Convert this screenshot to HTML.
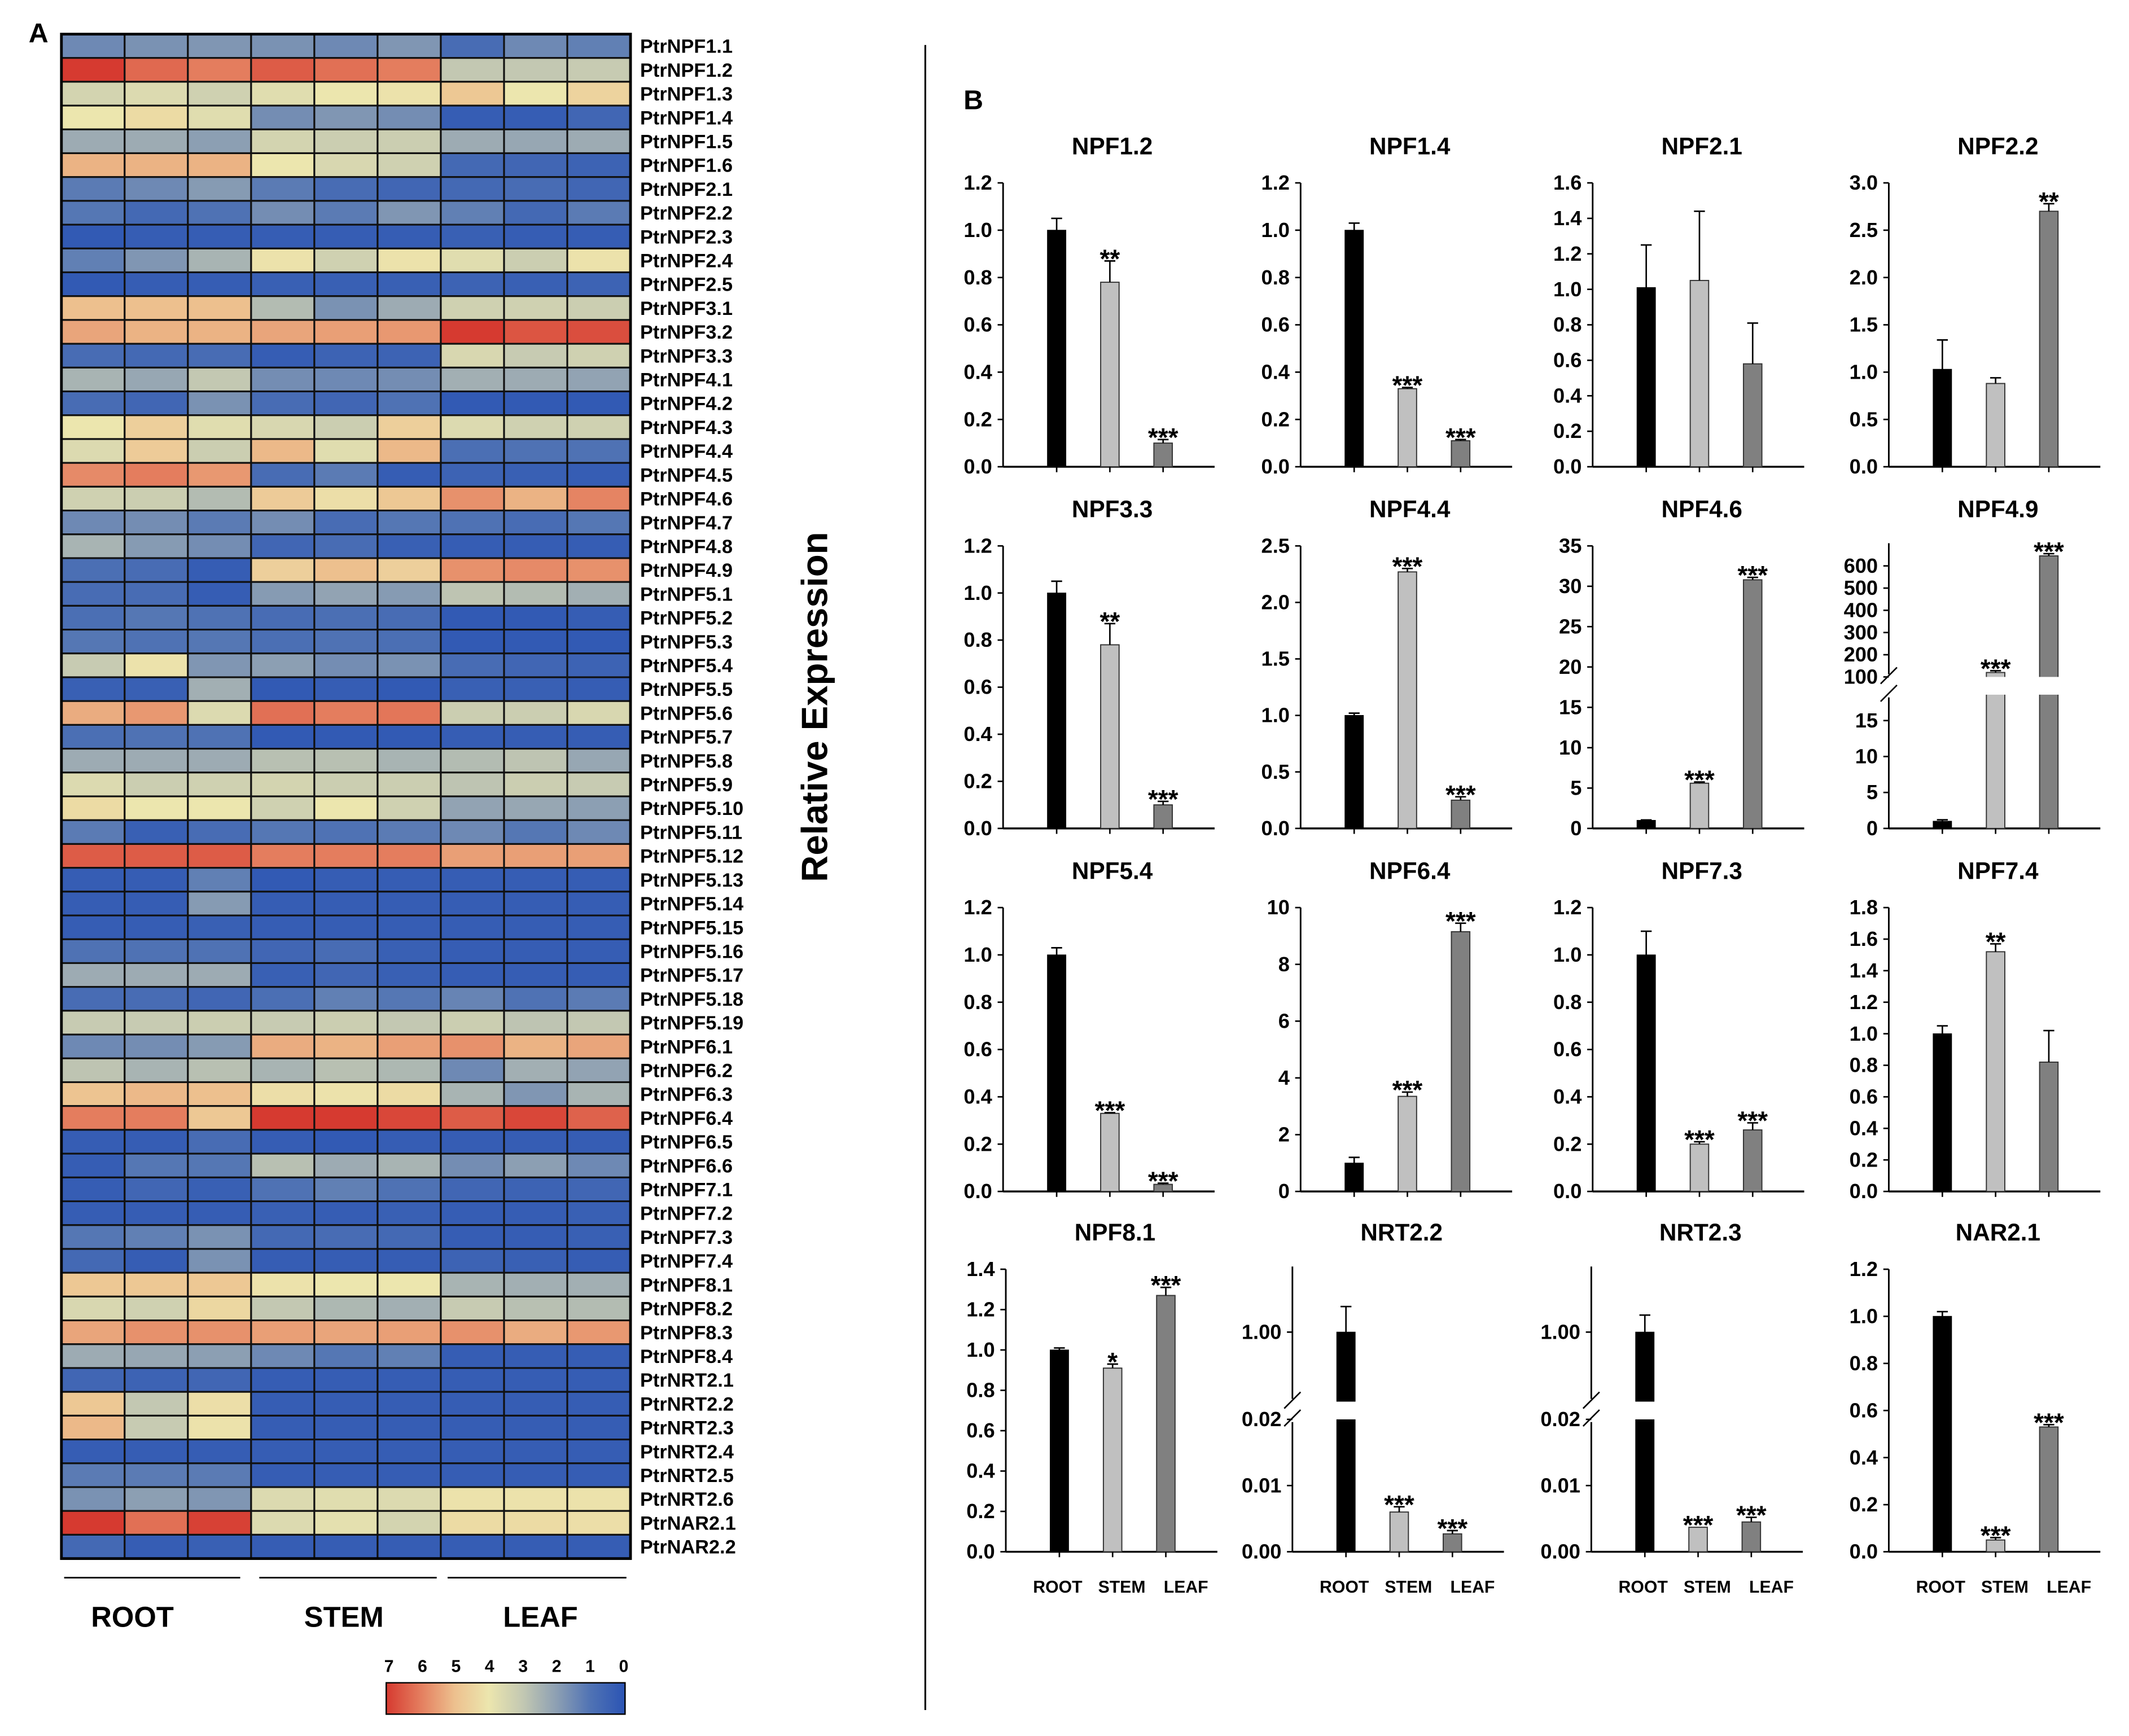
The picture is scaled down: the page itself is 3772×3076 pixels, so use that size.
<!DOCTYPE html>
<html><head><meta charset="utf-8"><title>NPF expression figure</title>
<style>
html,body{margin:0;padding:0;background:#fff;}
svg{display:block;}
text{font-family:"Liberation Sans",Arial,sans-serif;}
</style></head>
<body>
<svg id="fig" xmlns="http://www.w3.org/2000/svg" width="3772" height="3076" viewBox="0 0 1560 1272" preserveAspectRatio="none">
<rect x="0" y="0" width="1560" height="1272" fill="#fff"/>
<text x="21" y="31" font-size="20" font-weight="bold">A</text>
<text x="706" y="80" font-size="20" font-weight="bold">B</text>
<line x1="678" y1="33" x2="678" y2="1253" stroke="#000" stroke-width="1.3"/>
<text x="0" y="0" transform="translate(606,518) rotate(-90)" text-anchor="middle" font-size="27" font-weight="bold">Relative Expression</text>
<g id="heat"></g>
<g>
<line x1="47" y1="1156" x2="176" y2="1156" stroke="#000" stroke-width="1.2"/>
<line x1="190" y1="1156" x2="320" y2="1156" stroke="#000" stroke-width="1.2"/>
<line x1="328" y1="1156" x2="459" y2="1156" stroke="#000" stroke-width="1.2"/>
<text x="97" y="1192" text-anchor="middle" font-size="21" font-weight="bold">ROOT</text>
<text x="252" y="1192" text-anchor="middle" font-size="21" font-weight="bold">STEM</text>
<text x="396" y="1192" text-anchor="middle" font-size="21" font-weight="bold">LEAF</text>
</g>
<defs>
<linearGradient id="cbg" x1="0" y1="0" x2="1" y2="0">
<stop offset="0" stop-color="#d63a30"/><stop offset="0.143" stop-color="#e47d5e"/><stop offset="0.286" stop-color="#edc08e"/><stop offset="0.429" stop-color="#ece6ae"/><stop offset="0.571" stop-color="#c3c8b2"/><stop offset="0.714" stop-color="#8c9fb3"/><stop offset="0.857" stop-color="#4f72b4"/><stop offset="1" stop-color="#2b54b4"/>
</linearGradient>
</defs>
<g id="cbar">
<rect x="283" y="1233" width="175" height="23" fill="url(#cbg)" stroke="#000" stroke-width="1"/>
</g>
<g id="charts"></g>
</svg>
<script>
// ---------- heatmap data ----------
const genes = ["PtrNPF1.1","PtrNPF1.2","PtrNPF1.3","PtrNPF1.4","PtrNPF1.5","PtrNPF1.6","PtrNPF2.1","PtrNPF2.2","PtrNPF2.3","PtrNPF2.4","PtrNPF2.5","PtrNPF3.1","PtrNPF3.2","PtrNPF3.3","PtrNPF4.1","PtrNPF4.2","PtrNPF4.3","PtrNPF4.4","PtrNPF4.5","PtrNPF4.6","PtrNPF4.7","PtrNPF4.8","PtrNPF4.9","PtrNPF5.1","PtrNPF5.2","PtrNPF5.3","PtrNPF5.4","PtrNPF5.5","PtrNPF5.6","PtrNPF5.7","PtrNPF5.8","PtrNPF5.9","PtrNPF5.10","PtrNPF5.11","PtrNPF5.12","PtrNPF5.13","PtrNPF5.14","PtrNPF5.15","PtrNPF5.16","PtrNPF5.17","PtrNPF5.18","PtrNPF5.19","PtrNPF6.1","PtrNPF6.2","PtrNPF6.3","PtrNPF6.4","PtrNPF6.5","PtrNPF6.6","PtrNPF7.1","PtrNPF7.2","PtrNPF7.3","PtrNPF7.4","PtrNPF8.1","PtrNPF8.2","PtrNPF8.3","PtrNPF8.4","PtrNRT2.1","PtrNRT2.2","PtrNRT2.3","PtrNRT2.4","PtrNRT2.5","PtrNRT2.6","PtrNAR2.1","PtrNAR2.2"];
const heatValues = [
[1.5,1.7,1.8,1.7,1.5,1.8,0.8,1.5,1.3],
[7,6.3,6,6.5,6.2,6,3,3,3.1],
[3.4,3.6,3.3,3.7,4,4.1,4.8,4,4.5],
[4,4.3,3.7,1.6,1.8,1.6,0.3,0.3,0.6],
[2.3,2.3,2,3.4,3.2,3.2,2.3,2.2,2.3],
[5.2,5.2,5.2,4,3.5,3.3,0.7,0.6,0.5],
[1.2,1.5,1.9,1.2,0.8,0.6,0.7,0.8,0.6],
[1.1,0.7,1,1.6,1.2,1.8,1.3,0.7,1.2],
[0.2,0.3,0.3,0.3,0.3,0.3,0.4,0.3,0.3],
[1.3,1.8,2.5,4.1,3.3,4.1,3.7,3.2,4.1],
[0.2,0.3,0.3,0.4,0.4,0.4,0.5,0.4,0.5],
[5,5,5,2.7,1.7,2.3,3.3,3.3,3.2],
[5.4,5.2,5.2,5.4,5.5,5.6,7,6.6,6.7],
[0.8,0.7,0.8,0.3,0.5,0.5,3.5,3.1,3.3],
[2.5,2.2,3,1.6,1.5,1.6,2.4,2.3,2.1],
[0.8,0.6,1.7,0.8,0.6,1.0,0.2,0.2,0.2],
[4,4.6,3.7,3.5,3.2,4.6,3.6,3.3,3.3],
[3.6,4.7,3.2,5.1,3.7,5.1,0.9,1,1],
[5.8,6,5.6,0.8,1.2,0.3,0.5,0.4,0.3],
[3.3,3.2,2.7,4.7,4.2,4.8,5.7,5.2,5.9],
[1.5,1.6,1.2,1.6,0.8,1.1,1,0.8,1.1],
[2.5,1.9,1.6,0.6,0.8,0.4,0.3,0.3,0.3],
[0.9,0.8,0.3,4.6,5,4.6,5.7,5.8,5.7],
[0.8,0.8,0.3,1.9,2.1,1.9,2.9,2.7,2.4],
[0.9,1.1,1,0.8,0.9,0.8,0.2,0.2,0.3],
[1.1,1,1.1,0.9,1,0.9,0.2,0.2,0.2],
[3.1,4.1,1.8,2,1.6,1.7,0.8,0.6,0.5],
[0.4,0.4,2.4,0.2,0.3,0.2,0.4,0.4,0.3],
[5.3,5.6,3.6,6.2,6,6.1,3.2,3.2,3.5],
[0.9,1,1,0.2,0.2,0.2,0.3,0.3,0.3],
[2.3,2.3,2.3,2.8,2.8,2.5,2.7,2.9,2.2],
[3.6,3.2,3.3,3.4,3.2,3.2,2.9,3.2,3.1],
[4.3,4,4,3.3,4,3.3,2.1,2.2,2],
[1.2,0.4,0.8,1.1,1.0,1.2,1.5,1.1,1.5],
[6.5,6.5,6.5,6,6,6,5.5,5.5,5.5],
[0.3,0.3,1.3,0.2,0.3,0.3,0.3,0.3,0.3],
[0.3,0.3,1.9,0.3,0.3,0.3,0.3,0.3,0.3],
[0.3,0.3,0.4,0.3,0.3,0.3,0.3,0.3,0.3],
[1,1,1,0.6,0.8,0.4,0.3,0.3,0.3],
[2.3,2.3,2.3,0.4,0.6,0.4,0.3,0.3,0.3],
[0.8,0.8,0.6,0.9,1.3,1.1,1.4,1,1.2],
[3.1,3.1,3.2,3.1,3.2,3,3.2,2.9,3],
[1.5,1.6,1.9,5.3,5.2,5.5,5.7,5.2,5.4],
[2.9,2.5,2.8,2.5,2.8,2.6,1.5,2.4,2.1],
[4.9,5.1,5,4.2,4.1,4.3,2.5,1.8,2.5],
[6,6,4.8,7,7,6.8,6.5,6.8,6.4],
[0.3,0.3,0.8,0.3,0.2,0.3,0.3,0.3,0.3],
[0.3,1.1,1.1,2.8,2.3,2.5,1.6,2,1.5],
[0.3,0.6,0.4,1,1.3,1,0.6,0.5,0.6],
[0.3,0.3,0.3,0.4,0.3,0.4,0.3,0.3,0.4],
[1.1,1.3,1.7,0.7,0.8,0.7,0.3,0.3,0.4],
[0.7,0.3,1.7,0.3,0.3,0.3,0.5,0.4,0.3],
[4.8,4.8,4.8,4.1,4,4,2.5,2.4,2.4],
[3.5,3.3,4.4,3,2.6,2.4,3.1,2.8,2.7],
[5.4,5.7,5.7,5.5,5.4,5.5,5.7,5.3,5.6],
[2.3,2.2,2,1.5,1.1,1.3,0.3,0.3,0.3],
[0.6,0.5,0.6,0.3,0.3,0.3,0.3,0.3,0.3],
[4.8,3,4.2,0.3,0.3,0.3,0.3,0.3,0.3],
[5.1,3.1,4.1,0.3,0.3,0.3,0.3,0.3,0.3],
[0.3,0.3,0.3,0.3,0.3,0.3,0.3,0.3,0.3],
[1.2,1.2,1.2,0.3,0.3,0.3,0.3,0.3,0.3],
[1.7,2,1.8,3.6,3.7,3.6,4.1,4.1,4.1],
[7,6.2,6.9,3.6,3.8,3.4,4.3,4.3,4.2],
[0.7,0.3,0.4,0.3,0.3,0.3,0.3,0.3,0.3]
];
const colorbarTicks = ["7","6","5","4","3","2","1","0"];

// ---------- bar chart data ----------
const chartTitles = ["NPF1.2","NPF1.4","NPF2.1","NPF2.2","NPF3.3","NPF4.4","NPF4.6","NPF4.9","NPF5.4","NPF6.4","NPF7.3","NPF7.4","NPF8.1","NRT2.2","NRT2.3","NAR2.1"];
const tissues = ["ROOT","STEM","LEAF"];
const chartValues = [
[1,0.78,0.1],[1,0.33,0.11],[1.01,1.05,0.58],[1.03,0.88,2.7],
[1,0.78,0.1],[1,2.27,0.25],[1,5.6,30.8],[1,120,645],
[1,0.33,0.03],[1,3.35,9.15],[1,0.2,0.26],[1,1.52,0.82],
[1,0.91,1.27],[1,0.006,0.0027],[1,0.0037,0.0045],[1,0.05,0.53]
];
const chartErrors = [
[0.05,0.09,0.015],[0.03,0.005,0.005],[0.24,0.39,0.23],[0.31,0.06,0.08],
[0.05,0.09,0.015],[0.02,0.03,0.03],[0.05,0.15,0.3],[0.2,8,10],
[0.03,0.003,0.005],[0.2,0.15,0.3],[0.1,0.01,0.03],[0.05,0.05,0.2],
[0.01,0.02,0.04],[0.36,0.0008,0.0005],[0.24,0,0.0007],[0.02,0.01,0.01]
];
const chartStars = [
["","**","***"],["","***","***"],["","",""],["","","**"],
["","**","***"],["","***","***"],["","***","***"],["","***","***"],
["","***","***"],["","***","***"],["","***","***"],["","**",""],
["","*","***"],["","***","***"],["","***","***"],["","***","***"]
];
const chartTickLabels = [
["0.0","0.2","0.4","0.6","0.8","1.0","1.2"],
["0.0","0.2","0.4","0.6","0.8","1.0","1.2"],
["0.0","0.2","0.4","0.6","0.8","1.0","1.2","1.4","1.6"],
["0.0","0.5","1.0","1.5","2.0","2.5","3.0"],
["0.0","0.2","0.4","0.6","0.8","1.0","1.2"],
["0.0","0.5","1.0","1.5","2.0","2.5"],
["0","5","10","15","20","25","30","35"],
["0","5","10","15","100","200","300","400","500","600"],
["0.0","0.2","0.4","0.6","0.8","1.0","1.2"],
["0","2","4","6","8","10"],
["0.0","0.2","0.4","0.6","0.8","1.0","1.2"],
["0.0","0.2","0.4","0.6","0.8","1.0","1.2","1.4","1.6","1.8"],
["0.0","0.2","0.4","0.6","0.8","1.0","1.2","1.4"],
["0.00","0.01","0.02","1.00"],
["0.00","0.01","0.02","1.00"],
["0.0","0.2","0.4","0.6","0.8","1.0","1.2"]
];
const chartMax = [1.2,1.2,1.6,3.0,1.2,2.5,35,690,1.2,10,1.2,1.8,1.4,1.886,1.886,1.2];
// broken-axis value splits: [lowMax, highMin] (null = linear axis)
const chartBreakValues = [null,null,null,null,null,null,null,[18.6,100],null,null,null,null,null,[0.02,0.02],[0.02,0.02],null];

// ---------- layout (pixels, not data) ----------
const rowTops = [134,400,665,930];
const rowBots = [342,607,873,1137];
const colAxes = [[735,953,1167,1384],[735,953,1167,1384],[735,953,1167,1384],[737,947,1166,1384]];
const breakGapPx = {7:[496,509],13:[1027,1040],14:[1027,1040]};

const NS = "http://www.w3.org/2000/svg";
function mk(tag, attrs, parent){
  const e = document.createElementNS(NS, tag);
  for (const k in attrs) e.setAttribute(k, attrs[k]);
  parent.appendChild(e);
  return e;
}

const cStops = [[0,[43,84,180]],[1,[79,114,180]],[2,[140,159,179]],[3,[195,200,178]],[4,[236,230,174]],[5,[237,192,142]],[6,[228,125,94]],[7,[214,58,48]]];
function heatColor(v){
  v = Math.max(0, Math.min(7, v));
  const i = Math.min(6, Math.floor(v));
  const t = v - i;
  const a = cStops[i][1], b = cStops[i+1][1];
  const c = a.map((x,k)=>Math.round(x + (b[k]-x)*t));
  return "rgb(" + c.join(",") + ")";
}

// ---------- heatmap ----------
const heat = document.getElementById("heat");
const hx0 = 45, hx1 = 462, hy0 = 25, hy1 = 1142;
const cw = (hx1 - hx0) / 9, rh = (hy1 - hy0) / genes.length;
heatValues.forEach((row, r) => {
  row.forEach((v, c) => {
    const cell = mk("rect", {x: hx0 + c*cw, y: hy0 + r*rh, width: cw, height: rh, fill: heatColor(v), stroke: "#111", "stroke-width": 1.3}, heat);
    
    
  });
  const lab = mk("text", {x: 469, y: hy0 + r*rh + rh/2 + 5, "font-size": 14.2, "font-weight": "bold"}, heat);
  lab.textContent = genes[r];
  
  
});
const hb = mk("rect", {x: hx0, y: hy0, width: hx1-hx0, height: hy1-hy0, fill: "none", stroke: "#000", "stroke-width": 2}, heat);



const cbar = document.getElementById("cbar");
colorbarTicks.forEach((t, i) => {
  const tx = 285 + i * (172 / (colorbarTicks.length - 1));
  const e = mk("text", {x: tx, y: 1225, "font-size": 12.5, "font-weight": "bold", "text-anchor": "middle"}, cbar);
  e.textContent = t;
  
  
});

// ---------- bar charts ----------
const charts = document.getElementById("charts");
const barFill = ["#000000", "#c0c0c0", "#808080"];
const barOffsets = [32.5, 71.5, 110.5];
const barW = 13.5, axisLen = 155;

function makeScale(i, top, bot){
  const br = chartBreakValues[i];
  const max = chartMax[i];
  if (!br) return v => bot - v / max * (bot - top);
  const gap = breakGapPx[i];
  return v => {
    if (v <= br[0]) return bot - v / br[0] * (bot - gap[1]);
    return gap[0] - (v - br[1]) / (max - br[1]) * (gap[0] - top);
  };
}

chartTitles.forEach((title, i) => {
  const row = Math.floor(i / 4), col = i % 4;
  const top = rowTops[row], bot = rowBots[row];
  const ax = colAxes[row][col];
  const y = makeScale(i, top, bot);
  const g = mk("g", {}, charts);
  
  

  const tt = mk("text", {x: ax + 80, y: top - 21, "font-size": 17.5, "font-weight": "bold", "text-anchor": "middle"}, g);
  tt.textContent = title;
  
  

  const gap = breakGapPx[i];
  const axTop = gap ? top - 2 : y(chartMax[i]);
  if (gap) {
    const a1 = mk("line", {x1: ax, y1: bot, x2: ax, y2: gap[1] + 2, stroke: "#000", "stroke-width": 1.2}, g);
    
    
    const a2 = mk("line", {x1: ax, y1: gap[0] - 2, x2: ax, y2: axTop, stroke: "#000", "stroke-width": 1.2}, g);
    
    
    [gap[0], gap[1]].forEach(gy => {
      const bm = mk("line", {x1: ax - 6, y1: gy + 5, x2: ax + 6, y2: gy - 7, stroke: "#000", "stroke-width": 1.1}, g);
      
      
    });
  } else {
    const a = mk("line", {x1: ax, y1: bot, x2: ax, y2: axTop, stroke: "#000", "stroke-width": 1.2}, g);
    
    
  }
  const xa = mk("line", {x1: ax, y1: bot, x2: ax + axisLen, y2: bot, stroke: "#000", "stroke-width": 1.4}, g);
  
  

  chartTickLabels[i].forEach(lbl => {
    const v = parseFloat(lbl);
    let ty = y(v);
    if (gap && lbl === "0.02") ty = gap[1];
    const tk = mk("line", {x1: ax - 4, y1: ty, x2: ax, y2: ty, stroke: "#000", "stroke-width": 1.1}, g);
    
    
    const tl = mk("text", {x: ax - 8, y: ty + 5, "font-size": 15, "font-weight": "bold", "text-anchor": "end"}, g);
    tl.textContent = lbl;
    
    
  });

  chartValues[i].forEach((v, b) => {
    const bx = ax + barOffsets[b];
    const by = y(v);
    const bar = mk("rect", {x: bx, y: by, width: barW, height: bot - by, fill: barFill[b], stroke: b === 0 ? "#000" : "#333", "stroke-width": b === 0 ? 0.5 : 0.8}, g);
    
    
    if (gap && by < gap[0]) {
      const wg = mk("rect", {x: bx - 1, y: gap[0], width: barW + 2, height: gap[1] - gap[0], fill: "#fff"}, g);
      
      
    }
    const cx = bx + barW / 2;
    const ey = y(v + chartErrors[i][b]);
    if (chartErrors[i][b] > 0) {
      const el = mk("line", {x1: cx, y1: by, x2: cx, y2: ey, stroke: "#000", "stroke-width": 1.1}, g);
      
      
      const ec = mk("line", {x1: cx - 4, y1: ey, x2: cx + 4, y2: ey, stroke: "#000", "stroke-width": 1.1}, g);
      
      
    }
    const xt = mk("line", {x1: cx, y1: bot, x2: cx, y2: bot + 4, stroke: "#000", "stroke-width": 1.1}, g);
    
    
    if (chartStars[i][b]) {
      const st = mk("text", {x: cx, y: Math.min(ey, by) + 5, "font-size": 19, "font-weight": "bold", "text-anchor": "middle"}, g);
      st.textContent = chartStars[i][b];
      
      
    }
    if (row === 3) {
      const xl = mk("text", {x: ax + 38 + b * 47, y: bot + 30, "font-size": 12.5, "font-weight": "bold", "text-anchor": "middle"}, g);
      xl.textContent = tissues[b];
      
      
    }
  });
});
</script>
</body></html>
